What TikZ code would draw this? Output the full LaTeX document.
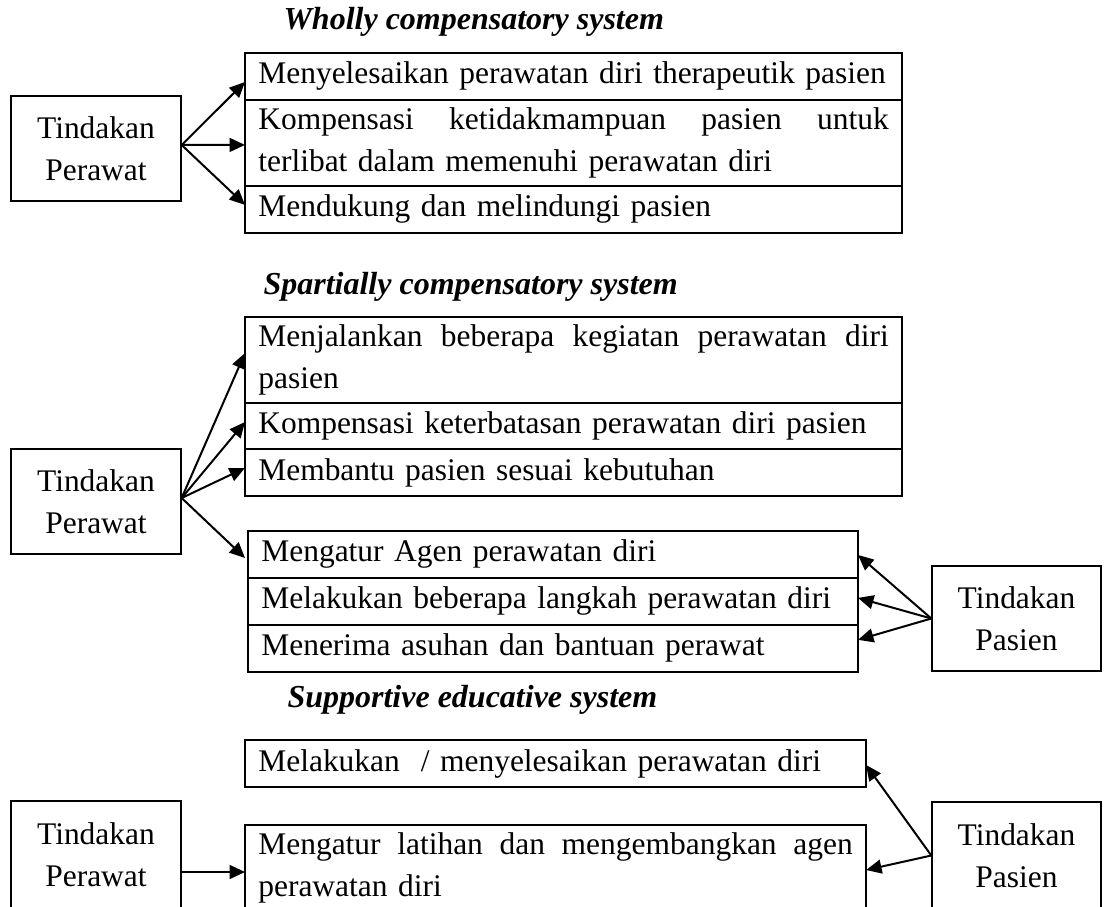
\documentclass[tikz,border=0pt]{standalone}
\usepackage{fontspec}
\setmainfont{Liberation Serif}
\usetikzlibrary{arrows.meta,calc}
\begin{document}
\begin{tikzpicture}[x=0.375pt,y=-0.375pt,
  every node/.style={font=\fontsize{11.8}{15.6}\selectfont},
  cell/.style={draw,line width=0.75pt,rectangle,anchor=north west,outer sep=0pt,
    inner xsep=5pt,inner ysep=0pt,align=left},
  actor/.style={draw,line width=0.5pt,rectangle,align=center,
    minimum width=63.75pt,minimum height=39.4pt,inner sep=0pt},
  title/.style={anchor=base west,inner sep=0pt,font=\fontsize{12}{15.6}\selectfont\bfseries\itshape},
  arr/.style={line width=0.75pt,-{Triangle[length=5.8pt,width=5.2pt]}}]
\useasboundingbox (0,0) rectangle (1104,906);
\clip (0,0) rectangle (1104,906);

% ---------- Wholly compensatory system ----------
\node[title] (h1) at (283,30) {Wholly compensatory system};
\node[actor] (p1) at (96,148.5) {Tindakan\\Perawat};
\node[cell,minimum width=246.4pt,text width=236.4pt,minimum height=17.6pt] (t1a) at (245,53)
  {\mbox{Menyelesaikan perawatan diri therapeutik pasien}};
\node[cell,minimum width=246.4pt,text width=236.4pt,minimum height=32.25pt] (t1b) at (t1a.south west)
  {Kompensasi\hfill ketidakmampuan\hfill pasien\hfill untuk\\terlibat dalam memenuhi perawatan diri};
\node[cell,minimum width=246.4pt,text width=236.4pt,minimum height=17.6pt] (t1c) at (t1b.south west)
  {Mendukung dan melindungi pasien};
\coordinate (o1) at ($(p1.east)+(0,-3.5)$);
\draw[arr] (o1) -- ($(t1a.west)+(0,5.5)$);
\draw[arr] (o1) -- ($(t1b.west)+(0,2)$);
\draw[arr] (o1) -- ($(t1c.west)+(0,-4.5)$);

% ---------- Spartially compensatory system ----------
\node[title] (h2) at (263,294) {Spartially compensatory system};
\node[actor] (p2) at (96,501.5) {Tindakan\\Perawat};
\node[cell,minimum width=246.4pt,text width=236.4pt,minimum height=32.25pt] (t2a) at (245,317)
  {Menjalankan\hfill beberapa\hfill kegiatan\hfill perawatan\hfill diri\\pasien};
\node[cell,minimum width=246.4pt,text width=236.4pt,minimum height=17.25pt] (t2b) at (t2a.south west)
  {Kompensasi keterbatasan perawatan diri pasien};
\node[cell,minimum width=246.4pt,text width=236.4pt,minimum height=17.6pt] (t2c) at (t2b.south west)
  {Membantu pasien sesuai kebutuhan};

\node[cell,minimum width=228.75pt,text width=218.75pt,minimum height=17.6pt] (t3a) at (248,531)
  {Mengatur Agen perawatan diri};
\node[cell,minimum width=228.75pt,text width=218.75pt,minimum height=17.6pt] (t3b) at (t3a.south west)
  {Melakukan beberapa langkah perawatan diri};
\node[cell,minimum width=228.75pt,text width=218.75pt,minimum height=17.6pt] (t3c) at (t3b.south west)
  {Menerima asuhan dan bantuan perawat};
\node[actor,minimum width=63.4pt] (q1) at (1016.5,618.5) {Tindakan\\Pasien};

\coordinate (o2) at ($(p2.east)+(0,-3.5)$);
\draw[arr] (o2) -- ($(t2a.west)+(0,-7)$);
\draw[arr] (o2) -- ($(t2b.west)+(0,-4)$);
\draw[arr] (o2) -- ($(t2c.west)+(0,-4.5)$);
\draw[arr] (o2) -- ($(t3a.west)+(-3,3.5)$);
\draw[arr] (q1.west) -- ($(t3a.east)+(0,0.5)$);
\draw[arr] (q1.west) -- ($(t3b.east)+(0,-3.5)$);
\draw[arr] (q1.west) -- ($(t3c.east)+(0,-8.5)$);

% ---------- Supportive educative system ----------
\node[title] (h3) at (287,707) {Supportive educative system};
\node[cell,minimum width=232.9pt,text width=222.9pt,minimum height=17.6pt] (t4a) at (245,740)
  {Melakukan\ \ / menyelesaikan perawatan diri};
\node[cell,minimum width=232.9pt,text width=222.9pt,minimum height=32.25pt] (t4b) at (245,825)
  {Mengatur\hfill latihan\hfill dan\hfill mengembangkan\hfill agen\\perawatan diri};
\node[actor,minimum height=40.1pt] (p3) at (96,854.5) {Tindakan\\Perawat};
\node[actor,minimum width=63.4pt,minimum height=40.1pt] (q3) at (1016.5,855.5) {Tindakan\\Pasien};

\coordinate (s3) at ($(p3.east)+(0,17.5)$);
\draw[arr] (s3) -- (s3 -| t4b.west);
\draw[arr] (q3.west) -- ($(t4a.east)+(0,1.5)$);
\draw[arr] (q3.west) -- ($(t4b.east)+(0,2)$);
\end{tikzpicture}
\end{document}
